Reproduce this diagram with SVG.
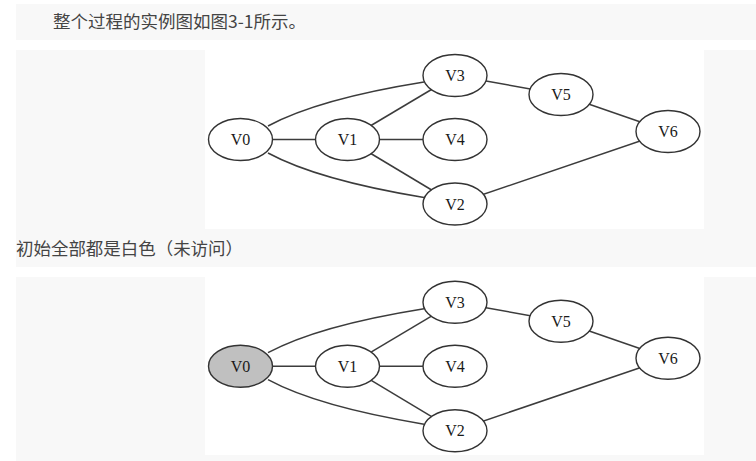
<svg xmlns="http://www.w3.org/2000/svg" width="756" height="461" viewBox="0 0 756 461">
<style>
.band{fill:#f8f8f8}
.img{fill:#ffffff}
.para{font-family:"Noto Sans CJK SC","Noto Sans",sans-serif;font-size:17px;fill:#444}
.edge{fill:none;stroke:#3c3c3c;stroke-width:1.5}
.node{fill:#ffffff;stroke:#333;stroke-width:1.4}
.visited{fill:#c0c0c0}
.label{font-family:"Liberation Serif","DejaVu Serif",serif;font-size:16px;fill:#1a1a1a;text-anchor:middle}
</style>
<rect width="756" height="461" fill="#ffffff"/>
<rect class="band" x="16" y="4" width="740" height="36"/>
<rect class="band" x="16" y="50" width="740" height="217"/>
<rect class="img" x="205" y="50" width="499" height="179"/>
<rect class="band" x="16" y="277" width="740" height="184"/>
<rect class="img" x="205" y="277" width="499" height="178"/>
<text class="para" x="53" y="28" textLength="253" lengthAdjust="spacingAndGlyphs">整个过程的实例图如图3-1所示。</text>
<text class="para" x="16" y="254.5" textLength="227" lengthAdjust="spacingAndGlyphs">初始全部都是白色（未访问）</text>

<g id="graph1">
<g id="connectors1">
<path class="edge" d="M268,126 Q318,99 424,82"/>
<path class="edge" d="M268,153 Q318,180 424,197.5"/>
<line class="edge" x1="240.5" y1="139.5" x2="347.5" y2="139.5"/>
<line class="edge" x1="347.5" y1="139.5" x2="455" y2="75.5"/>
<line class="edge" x1="347.5" y1="139.5" x2="455" y2="139.5"/>
<line class="edge" x1="347.5" y1="139.5" x2="455" y2="204"/>
<line class="edge" x1="455" y1="75.5" x2="561" y2="94.5"/>
<line class="edge" x1="561" y1="94.5" x2="668" y2="131.5"/>
<line class="edge" x1="455" y1="204" x2="668" y2="131.5"/>
</g>
<g id="g1-v0"><ellipse class="node" cx="240.5" cy="139.5" rx="32" ry="21"/><text class="label" x="240.5" y="145">V0</text></g>
<g id="g1-v1"><ellipse class="node" cx="347.5" cy="139.5" rx="32" ry="21"/><text class="label" x="347.5" y="145">V1</text></g>
<g id="g1-v3"><ellipse class="node" cx="455" cy="75.5" rx="32" ry="21"/><text class="label" x="455" y="81">V3</text></g>
<g id="g1-v4"><ellipse class="node" cx="455" cy="139.5" rx="32" ry="21"/><text class="label" x="455" y="145">V4</text></g>
<g id="g1-v2"><ellipse class="node" cx="455" cy="204" rx="32" ry="21"/><text class="label" x="455" y="209.5">V2</text></g>
<g id="g1-v5"><ellipse class="node" cx="561" cy="94.5" rx="32" ry="21"/><text class="label" x="561" y="100">V5</text></g>
<g id="g1-v6"><ellipse class="node" cx="668" cy="131.5" rx="32" ry="21"/><text class="label" x="668" y="137">V6</text></g>
</g>

<g id="graph2" transform="translate(0,226.7)">
<g id="connectors2">
<path class="edge" d="M268,126 Q318,99 424,82"/>
<path class="edge" d="M268,153 Q318,180 424,197.5"/>
<line class="edge" x1="240.5" y1="139.5" x2="347.5" y2="139.5"/>
<line class="edge" x1="347.5" y1="139.5" x2="455" y2="75.5"/>
<line class="edge" x1="347.5" y1="139.5" x2="455" y2="139.5"/>
<line class="edge" x1="347.5" y1="139.5" x2="455" y2="204"/>
<line class="edge" x1="455" y1="75.5" x2="561" y2="94.5"/>
<line class="edge" x1="561" y1="94.5" x2="668" y2="131.5"/>
<line class="edge" x1="455" y1="204" x2="668" y2="131.5"/>
</g>
<g id="g2-v0"><ellipse class="node visited" cx="240.5" cy="139.5" rx="32" ry="21"/><text class="label" x="240.5" y="145">V0</text></g>
<g id="g2-v1"><ellipse class="node" cx="347.5" cy="139.5" rx="32" ry="21"/><text class="label" x="347.5" y="145">V1</text></g>
<g id="g2-v3"><ellipse class="node" cx="455" cy="75.5" rx="32" ry="21"/><text class="label" x="455" y="81">V3</text></g>
<g id="g2-v4"><ellipse class="node" cx="455" cy="139.5" rx="32" ry="21"/><text class="label" x="455" y="145">V4</text></g>
<g id="g2-v2"><ellipse class="node" cx="455" cy="204" rx="32" ry="21"/><text class="label" x="455" y="209.5">V2</text></g>
<g id="g2-v5"><ellipse class="node" cx="561" cy="94.5" rx="32" ry="21"/><text class="label" x="561" y="100">V5</text></g>
<g id="g2-v6"><ellipse class="node" cx="668" cy="131.5" rx="32" ry="21"/><text class="label" x="668" y="137">V6</text></g>
</g>
</svg>
